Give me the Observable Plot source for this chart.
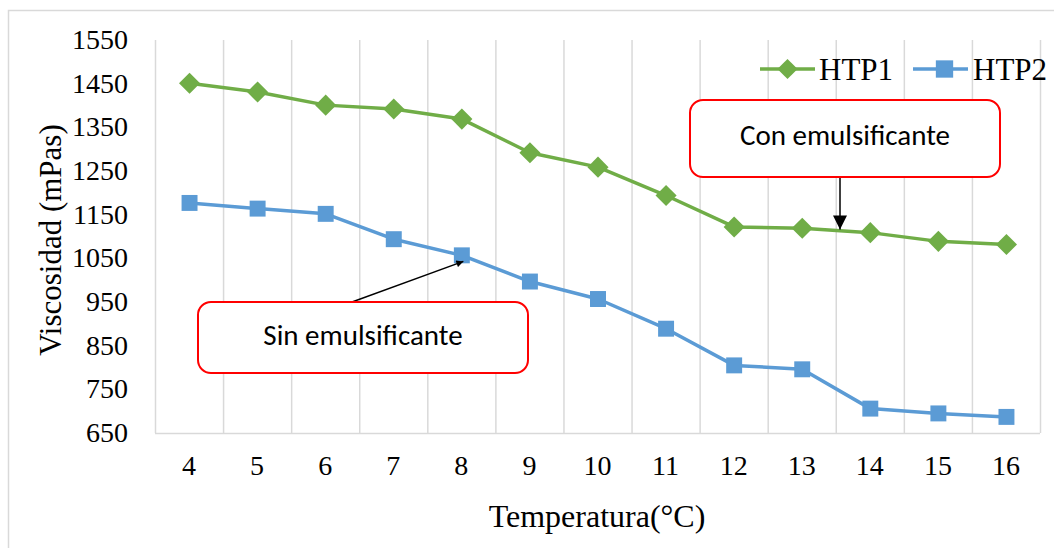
<!DOCTYPE html>
<html><head><meta charset="utf-8">
<script src="https://cdn.jsdelivr.net/npm/d3@7"></script>
<script src="https://cdn.jsdelivr.net/npm/@observablehq/plot@0.6"></script>
<style>body{margin:0;background:#fff}#chart{width:1054px;height:548px}</style>
</head><body><div id="chart"></div>
<script>
const temperatures = [4,5,6,7,8,9,10,11,12,13,14,15,16];
const htp1 = [1452,1432,1402,1393,1370,1293,1260,1195,1123,1120,1110,1090,1083];
const htp2 = [1178,1165,1153,1095,1058,998,958,890,806,797,707,696,688];
const yTicks = [650,750,850,950,1050,1150,1250,1350,1450,1550];
const seriesNames = ["HTP1","HTP2"];
const colors = ["#70AD47","#5B9BD5"];
const annotations = ["Con emulsificante","Sin emulsificante"];

const rows = [];
temperatures.forEach((t,i)=>{ rows.push({t, v: htp1[i], s: "HTP1"}); rows.push({t, v: htp2[i], s: "HTP2"}); });
const bounds = d3.range(temperatures.length+1).map(i => temperatures[0] - 0.5 + i);

const serif = "'Liberation Serif','Times New Roman',serif";
const W = 1054, H = 548;
const plot = Plot.plot({
  width: W, height: H,
  marginLeft: 155, marginRight: 14, marginTop: 40, marginBottom: 115,
  style: {fontFamily: serif, fontSize: "28px", color: "#000", background: "transparent"},
  x: {type: "linear", domain: [bounds[0], bounds[bounds.length-1]], axis: null},
  y: {domain: [650,1550], axis: null},
  color: {domain: seriesNames, range: colors},
  marks: [
    Plot.ruleX(bounds, {stroke: "#d9d9d9", strokeWidth: 1.5}),
    Plot.ruleY([650], {stroke: "#d9d9d9", strokeWidth: 1.5}),
    Plot.line(rows, {x: "t", y: "v", z: "s", stroke: "s", strokeWidth: 3.5}),
    Plot.dot(rows.filter(d=>d.s==="HTP1"), {x: "t", y: "v", symbol: "diamond2", r: 9.5, fill: colors[0], stroke: "none"}),
    Plot.dot(rows.filter(d=>d.s==="HTP2"), {x: "t", y: "v", symbol: "square", r: 9, fill: colors[1], stroke: "none"})
  ]
});
document.getElementById("chart").appendChild(plot);
const svg = d3.select(plot);
const xs = plot.scale("x"), ys = plot.scale("y");

// outer frame
svg.insert("rect", ":first-child").attr("x", 8.5).attr("y", 10.5).attr("width", 1050).attr("height", 545)
  .attr("fill", "#fff").attr("stroke", "#d9d9d9").attr("stroke-width", 1.5);

// tick labels from the Plot scales
const yAxisG = svg.append("g").attr("aria-label", "y-axis tick label");
yTicks.forEach(v => {
  yAxisG.append("text").attr("x", 128).attr("y", ys.apply(v)).attr("dy", "0.32em").attr("text-anchor", "end")
    .style("font-family", serif).style("font-size", "28px").text(String(v));
});
const xAxisG = svg.append("g").attr("aria-label", "x-axis tick label");
temperatures.forEach(t => {
  xAxisG.append("text").attr("x", xs.apply(t)).attr("y", 455).attr("dy", "0.71em").attr("text-anchor", "middle")
    .style("font-family", serif).style("font-size", "28px").text(String(t));
});

// axis titles
svg.append("text").attr("x", 597).attr("y", 527).attr("text-anchor", "middle")
  .style("font-family", serif).style("font-size", "32px").text("Temperatura(°C)");
svg.append("text").attr("transform", "translate(50,240) rotate(-90)").attr("text-anchor", "middle")
  .attr("dy", "0.35em").style("font-family", serif).style("font-size", "31px").text("Viscosidad (mPas)");

// legend
const leg = svg.append("g");
const legItems = [{x0: 760, x1: 815, tx: 819, sym: d3.symbolDiamond2, size: 260}, {x0: 913, x1: 968, tx: 973, sym: d3.symbolSquare, size: 300}];
legItems.forEach((L,i)=>{
  const ly = 69;
  leg.append("line").attr("x1", L.x0).attr("x2", L.x1).attr("y1", ly).attr("y2", ly).attr("stroke", colors[i]).attr("stroke-width", 3.5);
  leg.append("path").attr("d", d3.symbol(L.sym, L.size)()).attr("transform", `translate(${(L.x0+L.x1)/2 + (i===0?0:4)},${ly})`).attr("fill", colors[i]);
  leg.append("text").attr("x", L.tx).attr("y", ly).attr("dy", "0.35em").attr("text-anchor", "start")
    .style("font-family", serif).style("font-size", "31px").text(seriesNames[i]);
});

// arrow markers
const defs = svg.append("defs");
defs.append("marker").attr("id", "ah").attr("viewBox", "0 0 10 10").attr("refX", 10).attr("refY", 5)
  .attr("markerWidth", 8).attr("markerHeight", 7).attr("markerUnits", "userSpaceOnUse").attr("orient", "auto")
  .append("path").attr("d", "M0,0L10,5L0,10z").attr("fill", "#000");
defs.append("marker").attr("id", "ah2").attr("viewBox", "0 0 10 10").attr("refX", 10).attr("refY", 5)
  .attr("markerWidth", 16).attr("markerHeight", 14).attr("markerUnits", "userSpaceOnUse").attr("orient", "auto")
  .append("path").attr("d", "M0,0L10,5L0,10z").attr("fill", "#000");

const sans = "Calibri,Carlito,'Open Sans','Liberation Sans',sans-serif";
function callout(x, y, w, h, label, ty, ax0, ay0, ax1, ay1, marker) {
  svg.append("line").attr("x1", ax0).attr("y1", ay0).attr("x2", ax1).attr("y2", ay1)
    .attr("stroke", "#000").attr("stroke-width", 1.5).attr("marker-end", `url(#${marker})`);
  svg.append("rect").attr("x", x).attr("y", y).attr("width", w).attr("height", h).attr("rx", 13)
    .attr("fill", "#fff").attr("stroke", "#ff0000").attr("stroke-width", 2);
  svg.append("text").attr("x", x + w/2).attr("y", ty).attr("text-anchor", "middle").attr("dy", "0.35em")
    .style("font-family", sans).style("font-size", "29px").text(label);
}
// Con emulsificante -> points to HTP1 line between 13 and 14
callout(690, 100, 310, 77, annotations[0], 135, 840, 177, 840, ys.apply(1116), "ah2");
// Sin emulsificante -> points to HTP2 near 8
callout(198, 302, 330, 71, annotations[1], 335, 352, 302, xs.apply(8) + 2, ys.apply(1043), "ah");
</script></body></html>
